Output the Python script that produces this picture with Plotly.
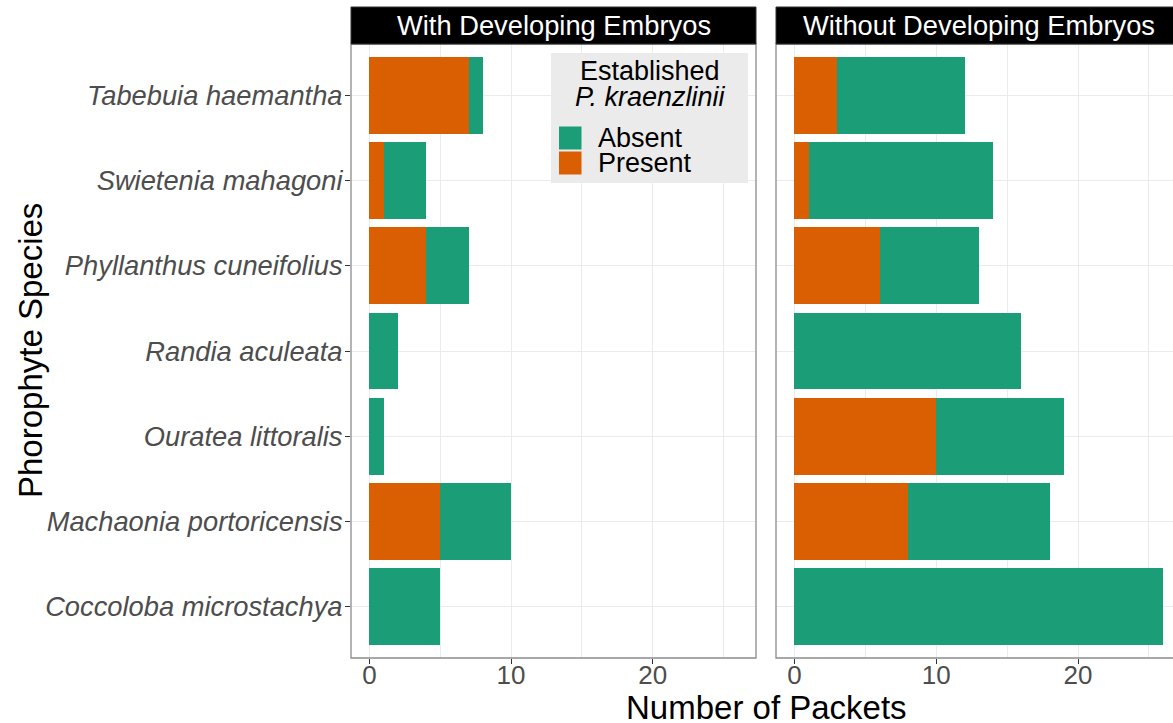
import plotly.graph_objects as go

# Phorophyte species, listed top to bottom
species = [
    "Tabebuia haemantha",
    "Swietenia mahagoni",
    "Phyllanthus cuneifolius",
    "Randia aculeata",
    "Ouratea littoralis",
    "Machaonia portoricensis",
    "Coccoloba microstachya",
]

# Packet counts, seeds with developing embryos
with_present = [7, 1, 4, 0, 0, 5, 0]
with_absent = [1, 3, 3, 2, 1, 5, 5]

# Packet counts, seeds without developing embryos
without_present = [3, 1, 6, 0, 10, 8, 0]
without_absent = [9, 13, 7, 16, 9, 10, 26]

facet_titles = ["With Developing Embryos", "Without Developing Embryos"]
status_labels = ["Absent", "Present"]
x_ticks = [0, 10, 20]
x_minor = [5, 15, 25]

colors = {"Absent": "#1B9E77", "Present": "#D95F02"}

W, H = 1173, 723
FONT = "Liberation Sans, Arial, Helvetica, sans-serif"


def px(x):
    return x / W


def py(y):
    return 1 - y / H


fig = go.Figure()

panels = [
    ("x", "y", {"Present": with_present, "Absent": with_absent}),
    ("x2", "y2", {"Present": without_present, "Absent": without_absent}),
]
for xa, ya, vals in panels:
    for status in ["Present", "Absent"]:
        fig.add_trace(go.Bar(
            y=species, x=vals[status], orientation="h",
            name=status, xaxis=xa, yaxis=ya,
            marker=dict(color=colors[status], line=dict(width=0)),
            width=0.9, showlegend=False,
        ))

grid = "#EBEBEB"
tick_font = dict(family=FONT, size=26, color="#4D4D4D")

y_bottom, y_top = py(658), py(44)

common_x = dict(
    tickvals=x_ticks, showgrid=True, gridcolor=grid, gridwidth=1.1,
    minor=dict(tickvals=x_minor, showgrid=True, gridcolor=grid, gridwidth=0.6, ticks=""),
    ticks="outside", ticklen=5, tickcolor="#333333", tickwidth=1,
    tickfont=tick_font, ticklabelstandoff=-11,
    zeroline=False, showline=False,
)

fig.update_layout(
    width=W, height=H,
    margin=dict(l=0, r=0, t=0, b=0),
    plot_bgcolor="white", paper_bgcolor="white",
    barmode="stack", showlegend=False,
    font=dict(family=FONT),
    xaxis=dict(domain=[px(351), px(756)], range=[-1.3, 27.3], anchor="y", **common_x),
    xaxis2=dict(domain=[px(776), 1.0], range=[-1.3, 26.7], anchor="y2", **common_x),
    yaxis=dict(
        domain=[y_bottom, y_top], type="category",
        categoryorder="array", categoryarray=species[::-1],
        range=[-0.6, 6.6], anchor="x",
        ticks="outside", ticklen=5, tickcolor="#333333", tickwidth=1,
        tickfont=dict(family=FONT, size=27.3, color="#4D4D4D", style="italic"),
        ticklabelstandoff=-3,
        showgrid=True, gridcolor=grid, gridwidth=1.1, zeroline=False, showline=False,
    ),
    yaxis2=dict(
        domain=[y_bottom, y_top], type="category",
        categoryorder="array", categoryarray=species[::-1],
        range=[-0.6, 6.6], anchor="x2", matches="y",
        showticklabels=False, ticks="",
        showgrid=True, gridcolor=grid, gridwidth=1.1, zeroline=False, showline=False,
    ),
)

shapes = []
annotations = []

# Panel borders and black facet strips
panel_px = [(351, 756), (776, 1182)]
for (x0, x1), title in zip(panel_px, facet_titles):
    shapes.append(dict(type="rect", xref="paper", yref="paper",
                       x0=px(x0), x1=px(x1), y0=y_bottom, y1=y_top,
                       line=dict(color="#8C8C8C", width=1.3), fillcolor="rgba(0,0,0,0)",
                       layer="above"))
    shapes.append(dict(type="rect", xref="paper", yref="paper",
                       x0=px(x0), x1=px(x1), y0=py(44), y1=py(7),
                       line=dict(color="#333333", width=1), fillcolor="black",
                       layer="above"))
    annotations.append(dict(text=title, xref="paper", yref="paper",
                            x=px((x0 + x1) / 2), y=py(25.5),
                            xanchor="center", yanchor="middle", showarrow=False,
                            font=dict(family=FONT, size=27.3, color="white")))

# Legend box
shapes.append(dict(type="rect", xref="paper", yref="paper",
                   x0=px(551), x1=px(748), y0=py(183), y1=py(53),
                   line=dict(width=0), fillcolor="#EBEBEB", layer="above"))
annotations.append(dict(text="Established", xref="paper", yref="paper",
                        x=px(650), y=py(71), xanchor="center", yanchor="middle",
                        showarrow=False, font=dict(family=FONT, size=27, color="black")))
annotations.append(dict(text="<i>P. kraenzlinii</i>", xref="paper", yref="paper",
                        x=px(650), y=py(97), xanchor="center", yanchor="middle",
                        showarrow=False, font=dict(family=FONT, size=27, color="black")))
for i, status in enumerate(status_labels):
    top = 126.5 + i * 25
    shapes.append(dict(type="rect", xref="paper", yref="paper",
                       x0=px(559), x1=px(581.5), y0=py(top + 23), y1=py(top),
                       line=dict(width=0), fillcolor=colors[status], layer="above"))
    annotations.append(dict(text=status, xref="paper", yref="paper",
                            x=px(596), y=py(top + 11.5), xanchor="left", yanchor="middle",
                            showarrow=False, font=dict(family=FONT, size=27, color="black")))

# Axis titles
annotations.append(dict(text="Number of Packets", xref="paper", yref="paper",
                        x=px(766), y=py(707), xanchor="center", yanchor="middle",
                        showarrow=False, font=dict(family=FONT, size=33, color="black")))
annotations.append(dict(text="Phorophyte Species", xref="paper", yref="paper",
                        x=px(30), y=py(351), xanchor="center", yanchor="middle",
                        textangle=-90, showarrow=False,
                        font=dict(family=FONT, size=33, color="black")))

fig.update_layout(shapes=shapes, annotations=annotations)

fig.write_html("out.html")
